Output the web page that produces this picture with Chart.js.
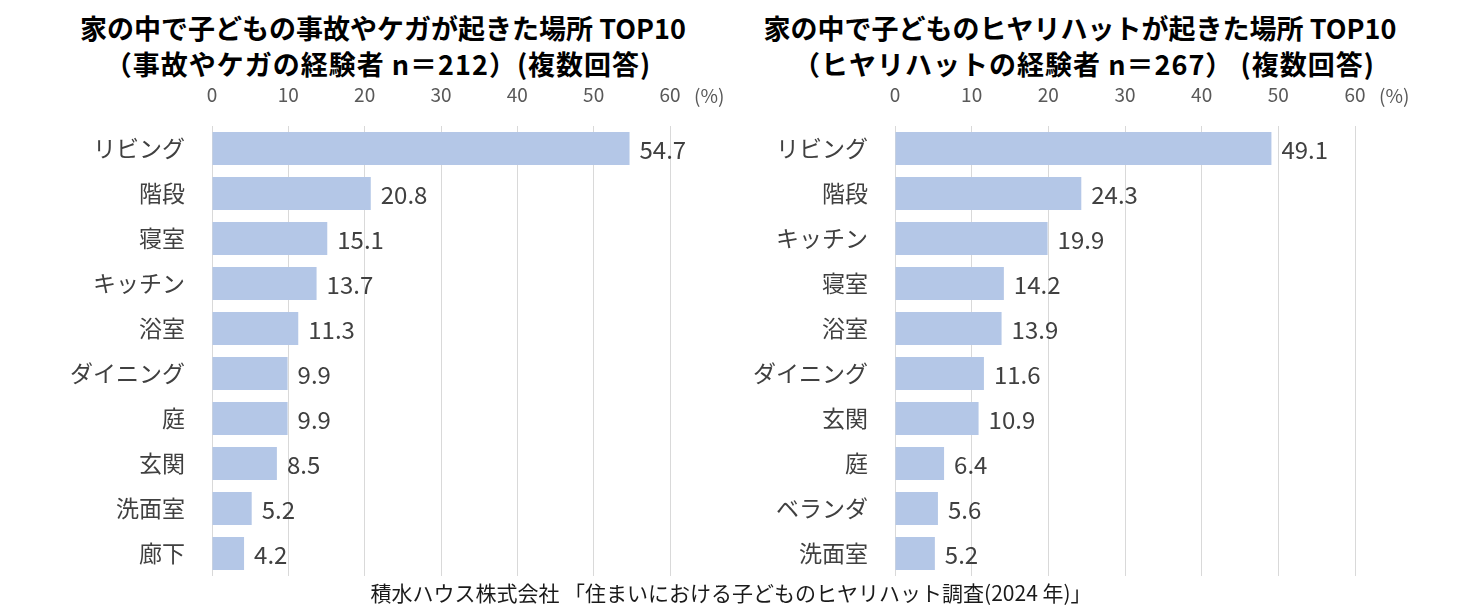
<!DOCTYPE html>
<html>
<head>
<meta charset="utf-8">
<script src="https://cdn.jsdelivr.net/npm/chart.js@4.4.0/dist/chart.umd.min.js"></script>
<style>
  body { margin: 0; background: #fff; width: 1476px; height: 616px; position: relative; overflow: hidden;
         font-family: "Noto Sans CJK JP", "Noto Sans", sans-serif; }
  .title { position: absolute; font-weight: bold; font-size: 27px; color: #000; white-space: nowrap;
           transform: translateX(-50%); line-height: 1; }
  .sub { letter-spacing: 1px; }
  canvas { position: absolute; top: 80px; display: block; }
  .foot { position: absolute; top: 582px; left: 731px; transform: translateX(-50%); font-size: 21px;
          color: #1a1a1a; white-space: nowrap; line-height: 1; }
</style>
</head>
<body>
<div class="title" style="left:383px; top:14px;">家の中で子どもの事故やケガが起きた場所 TOP10</div>
<div class="title sub" style="left:378px; top:50px;">（事故やケガの経験者 n＝212）(複数回答)</div>
<div class="title" style="left:1080px; top:14px;">家の中で子どものヒヤリハットが起きた場所 TOP10</div>
<div class="title sub" style="left:1084px; top:50px;">（ヒヤリハットの経験者 n＝267） (複数回答)</div>
<canvas id="chartLeft" width="738" height="500" style="left:0;"></canvas>
<canvas id="chartRight" width="738" height="500" style="left:738px;"></canvas>
<div class="foot">積水ハウス株式会社 「住まいにおける子どものヒヤリハット調査(2024 年)」</div>

<script>
// ── DATA ──────────────────────────────────────────────────────────────────
const accidentPlaces = ['リビング', '階段', '寝室', 'キッチン', '浴室', 'ダイニング', '庭', '玄関', '洗面室', '廊下'];
const accidentPct    = [54.7, 20.8, 15.1, 13.7, 11.3, 9.9, 9.9, 8.5, 5.2, 4.2];

const nearMissPlaces = ['リビング', '階段', 'キッチン', '寝室', '浴室', 'ダイニング', '玄関', '庭', 'ベランダ', '洗面室'];
const nearMissPct    = [49.1, 24.3, 19.9, 14.2, 13.9, 11.6, 10.9, 6.4, 5.6, 5.2];

const xMin = 0, xMax = 60, xStep = 10;
const unitLabel = '(%)';

// ── CHARTS ────────────────────────────────────────────────────────────────
const JP = '"Noto Sans CJK JP", "Noto Sans", sans-serif';

const valueLabels = {
  id: 'valueLabels',
  afterDatasetsDraw(chart) {
    const ctx = chart.ctx;
    const meta = chart.getDatasetMeta(0);
    const data = chart.data.datasets[0].data;
    ctx.save();
    ctx.font = '24px ' + JP;
    ctx.fillStyle = '#404040';
    ctx.textAlign = 'left';
    ctx.textBaseline = 'middle';
    meta.data.forEach(function(bar, i) {
      ctx.fillText(data[i].toFixed(1), bar.x + 10, bar.y + 1);
    });
    // unit next to the last tick
    const xs = chart.scales.x;
    ctx.font = '19px ' + JP;
    ctx.fillStyle = '#595959';
    ctx.fillText(unitLabel, xs.getPixelForValue(xMax) + 24, chart.chartArea.top - 30);
    ctx.restore();
  }
};

function initBarChart(canvasId, labels, data, yWidth, padRight) {
  const el = document.getElementById(canvasId);
  return new Chart(el, {
    type: 'bar',
    data: {
      labels: labels,
      datasets: [{
        data:               data,
        backgroundColor:    '#b4c7e7',
        borderWidth:        0,
        categoryPercentage: 1,
        barPercentage:      .73
      }]
    },
    options: {
      indexAxis:           'y',
      responsive:          false,
      animation:           false,
      layout: { padding: { left: 0, right: padRight, top: 0, bottom: 4 } },
      plugins: {
        legend:  { display: false },
        tooltip: { enabled: false }
      },
      scales: {
        x: {
          position: 'top',
          min: xMin, max: xMax,
          border: { display: false },
          grid:   { color: '#d9d9d9', lineWidth: 1, drawTicks: false },
          ticks:  { stepSize: xStep, padding: 20, font: { family: JP, size: 19 }, color: '#595959' },
          afterFit: function(s) { s.height = 46; }
        },
        y: {
          border: { display: false },
          grid:   { display: false, drawTicks: false },
          ticks:  { padding: 27, font: { family: JP, size: 23 }, color: '#404040' },
          afterFit: function(s) {
            s.width = yWidth;
            s.paddingTop = 0;
            s.paddingBottom = 0;
          }
        }
      }
    },
    plugins: [valueLabels]
  });
}

initBarChart('chartLeft',  accidentPlaces, accidentPct, 212, 68);
initBarChart('chartRight', nearMissPlaces, nearMissPct, 157, 121);
</script>
</body>
</html>
